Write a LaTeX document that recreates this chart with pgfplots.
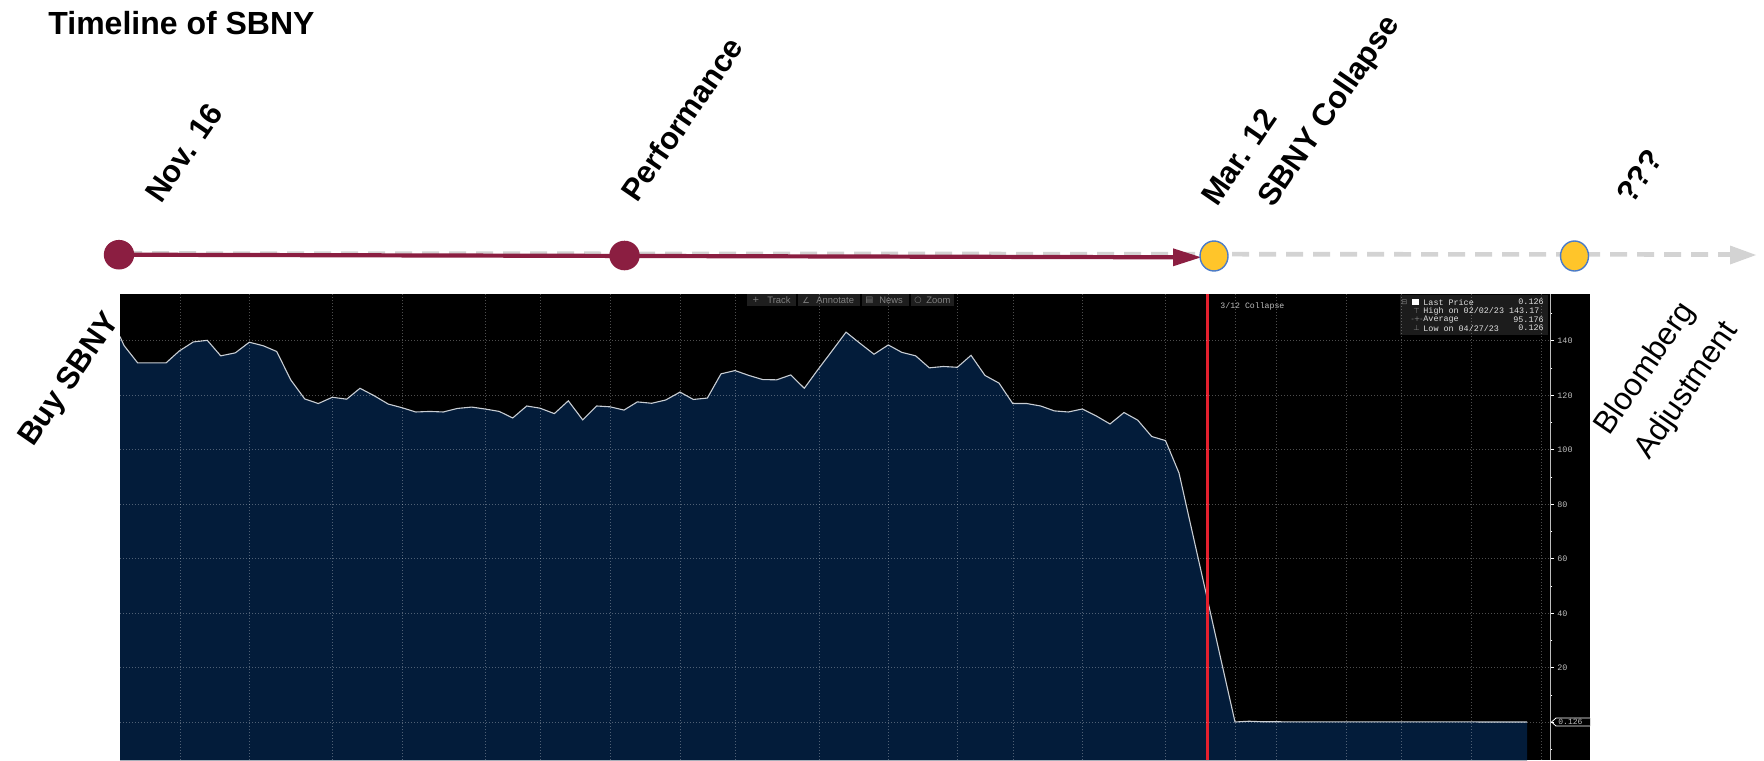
\documentclass[border=0pt]{standalone}
\usepackage{pgfplots}
\pgfplotsset{compat=1.18}
\usepackage{pgfplotstable}
\usepgfplotslibrary{fillbetween}
\usepackage{fontspec}
\setmainfont{Liberation Sans}
\newfontfamily\mono{Liberation Mono}
\newfontfamily\dejavu{DejaVu Sans}
\definecolor{maroon}{HTML}{8B1E41}
\definecolor{gold}{HTML}{FFC52A}
\definecolor{goldedge}{HTML}{4A7BC8}
\definecolor{dashgray}{HTML}{D3D3D3}
\definecolor{navy}{HTML}{031C3A}
\definecolor{priceline}{HTML}{C8CDD3}
\definecolor{bbred}{HTML}{E5202E}
\definecolor{lblgray}{HTML}{BDBDBD}
\definecolor{boxgray}{HTML}{1C1C1C}
\definecolor{toolgray}{HTML}{1E1E1E}

\pgfplotstableread{
x y
120 141.6
124 138.3
137.7 131.9
152 131.9
166 131.9
179.3 136.3
193.3 139.6
207.3 140.2
220.7 134.5
235.3 135.6
249.3 139.5
263.3 138.2
276.7 136.1
290.7 125.7
304.7 118.7
318.3 117.0
332.3 119.3
346.7 118.6
360 122.6
374 119.9
388.3 116.8
401.7 115.5
415.7 113.9
430 114.1
443.3 113.9
457.3 115.2
471.7 115.7
485 115.0
499.3 114.1
512.7 111.7
526.7 116.1
540 115.3
554.3 113.3
568.3 118.0
582.7 111.0
596.7 116.1
610 115.8
624 114.6
637.3 117.6
651.7 117.1
665.7 118.3
680 121.2
693.3 118.5
707.3 119.0
721 127.9
735 129.1
749 127.3
762.7 125.8
776.7 125.7
790.7 127.5
804.3 122.6
818 129.5
832 136.3
846 143.2
860 139.1
874 135.1
888.3 138.5
901.7 135.8
915.7 134.5
929.3 130.1
943.3 130.6
957.3 130.3
971 134.7
985 127.3
999 124.5
1012.7 117.0
1026.7 117.0
1040.7 116.1
1054.3 114.3
1068.3 113.9
1082.3 115.0
1096 112.5
1110 109.5
1124 113.7
1137.7 110.9
1151.7 104.9
1165.5 103.4
1179 91.5
1193 68.6
1207 45.8
1221 22.9
1235 0.126
1249 0.4
1263 0.2
1527 0.126
}\price

\begin{document}
\begin{tikzpicture}
\begin{scope}[x=0.5pt,y=-0.5pt]
\fill[black] (1549,294) rectangle (1590,760);
\end{scope}
\begin{axis}[at={(60pt,-380pt)}, anchor=south west, scale only axis,
  width=715pt, height=233pt,
  xmin=120, xmax=1550, ymin=-13.83, ymax=157.2,
  axis background/.style={fill=black},
  axis on top,
  axis y line*=right, axis x line*=bottom,
  x axis line style={draw=none},
  xtick={180,249.3,332.3,402.3,485.3,540.7,610.7,680,735.3,819,888.3,957.7,1013.3,1082.7,1165.5,1235,1276.7,1346.8,1401.7,1471,1541.7},
  xticklabels={}, xtick style={draw=none},
  ytick={0,20,...,140}, yticklabels={,20,40,60,80,100,120,140},
  minor ytick={-10,10,30,50,70,90,110,130,150},
  grid=major,
  major grid style={draw=white, opacity=0.3, line width=0.5pt, dash pattern=on 0.6pt off 0.9pt},
  y axis line style={draw=lblgray, line width=0.5pt},
  ytick style={draw=white, line width=0.5pt},
  tick align=outside, major tick length=2pt, minor tick length=1.2pt,
  yticklabel style={font=\mono\fontsize{4.2}{5}\selectfont, text=lblgray, inner sep=0.5pt, xshift=1pt},
]
\addplot[name path=price, draw=priceline, line width=0.55pt] table[x=x,y=y]{\price};
\path[name path=floor] (axis cs:120,-14) -- (axis cs:1527,-14);
\addplot[fill=navy, draw=none] fill between[of=price and floor];
\addplot[bbred, line width=1.4pt] coordinates {(1207.5,-14) (1207.5,158)};
\node[anchor=west, font=\mono\fontsize{4.1}{5}\selectfont, text=lblgray, inner sep=0pt] at (axis cs:1220,152.8) {3/12 Collapse};
\end{axis}
\begin{scope}[x=0.5pt,y=-0.5pt]
% toolbar
\fill[toolgray] (747,294) rectangle (954,306);
\foreach \sx in {797,861,910} {\draw[black, line width=0.6pt] (\sx,294) -- (\sx,306);}
\node[anchor=west, inner sep=0pt, text=gray, font=\dejavu\fontsize{4.2}{5}\selectfont] at (752,300) {+};
\node[anchor=west, inner sep=0pt, text=gray, font=\fontsize{4.7}{5}\selectfont] at (767,300) {Track};
\node[anchor=west, inner sep=0pt, text=gray, font=\dejavu\fontsize{4.2}{5}\selectfont] at (802,300) {∠};
\node[anchor=west, inner sep=0pt, text=gray, font=\fontsize{4.7}{5}\selectfont] at (816,300) {Annotate};
\node[anchor=west, inner sep=0pt, text=gray, font=\dejavu\fontsize{4.2}{5}\selectfont] at (865,300) {▤};
\node[anchor=west, inner sep=0pt, text=gray, font=\fontsize{4.7}{5}\selectfont] at (879,300) {News};
\node[anchor=west, inner sep=0pt, text=gray, font=\dejavu\fontsize{4.2}{5}\selectfont] at (914,300) {○};
\node[anchor=west, inner sep=0pt, text=gray, font=\fontsize{4.7}{5}\selectfont] at (926,300) {Zoom};
% legend box
\fill[boxgray] (1400,295) rectangle (1548,335);
\fill[white] (1412,299) rectangle (1419,305);
\node[anchor=west, inner sep=0pt, text=gray, font=\dejavu\fontsize{3.6}{4}\selectfont] at (1401,302) {⊟};
\node[anchor=west, inner sep=0pt, text=gray, font=\dejavu\fontsize{3.6}{4}\selectfont] at (1413,311) {⊤};
\node[anchor=west, inner sep=0pt, text=gray, font=\dejavu\fontsize{3.6}{4}\selectfont] at (1411,319.5) {-+-};
\node[anchor=west, inner sep=0pt, text=gray, font=\dejavu\fontsize{3.6}{4}\selectfont] at (1413,328) {⊥};
\begin{scope}[every node/.style={inner sep=0pt, text=white!88!black, font=\mono\fontsize{4.2}{5}\selectfont}]
\node[anchor=west] at (1423,302) {Last Price};
\node[anchor=east] at (1544,302) {0.126};
\node[anchor=west] at (1423,311) {High on 02/02/23 143.17};
\node[anchor=west] at (1423,319.5) {Average};
\node[anchor=east] at (1544,319.5) {95.176};
\node[anchor=west] at (1423,328) {Low on 04/27/23};
\node[anchor=east] at (1544,328) {0.126};
\end{scope}
% last value tag
\draw[white, fill=black, line width=0.4pt] (1590,718) -- (1556,718) -- (1551.5,722) -- (1556,726) -- (1590,726);
\node[anchor=west, inner sep=0pt, text=lblgray, font=\mono\fontsize{4.0}{5}\selectfont] at (1558,722) {0.126};
% timeline
\draw[dashgray, line width=2.3pt, dash pattern=on 8.5pt off 5pt] (125,253.5) -- (1732,254.5);
\fill[dashgray] (1730,245.5) -- (1756,255) -- (1730,264.5) -- cycle;
\draw[maroon, line width=2.1pt] (119,254.7) -- (1176,257.3);
\fill[maroon] (1173,248.3) -- (1201,257.3) -- (1173,266.3) -- cycle;
\fill[maroon] (119,254.7) ellipse[x radius=7.6pt, y radius=7.4pt];
\fill[maroon] (624.5,255.5) ellipse[x radius=7.6pt, y radius=7.4pt];
\filldraw[fill=gold, draw=goldedge, line width=0.7pt] (1214,256) ellipse[x radius=7pt, y radius=7.5pt];
\filldraw[fill=gold, draw=goldedge, line width=0.7pt] (1574.5,256) ellipse[x radius=7pt, y radius=7.5pt];
% labels
\node[anchor=base west, inner sep=0pt, font=\bfseries\fontsize{16}{19}\selectfont] at (48,34) {Timeline of SBNY};
\begin{scope}[every node/.style={anchor=base west, inner sep=0pt, rotate=55.5, font=\bfseries\fontsize{15.5}{19}\selectfont}]
\node at (161,205) {Nov. 16};
\node at (637,204) {Performance};
\node at (1217,208) {Mar. 12};
\node at (1273,209) {SBNY Collapse};
\node at (1632,206) {???};
\node at (33,448) {Buy SBNY};
\end{scope}
\begin{scope}[every node/.style={anchor=base west, inner sep=0pt, rotate=55.5, font=\fontsize{15.8}{19}\selectfont}]
\node at (1609,437) {Bloomberg};
\node at (1649,461) {Adjustment};
\end{scope}
\end{scope}
\pgfresetboundingbox
\useasboundingbox (0pt,-380pt) rectangle (882pt,0pt);
\end{tikzpicture}
\end{document}
